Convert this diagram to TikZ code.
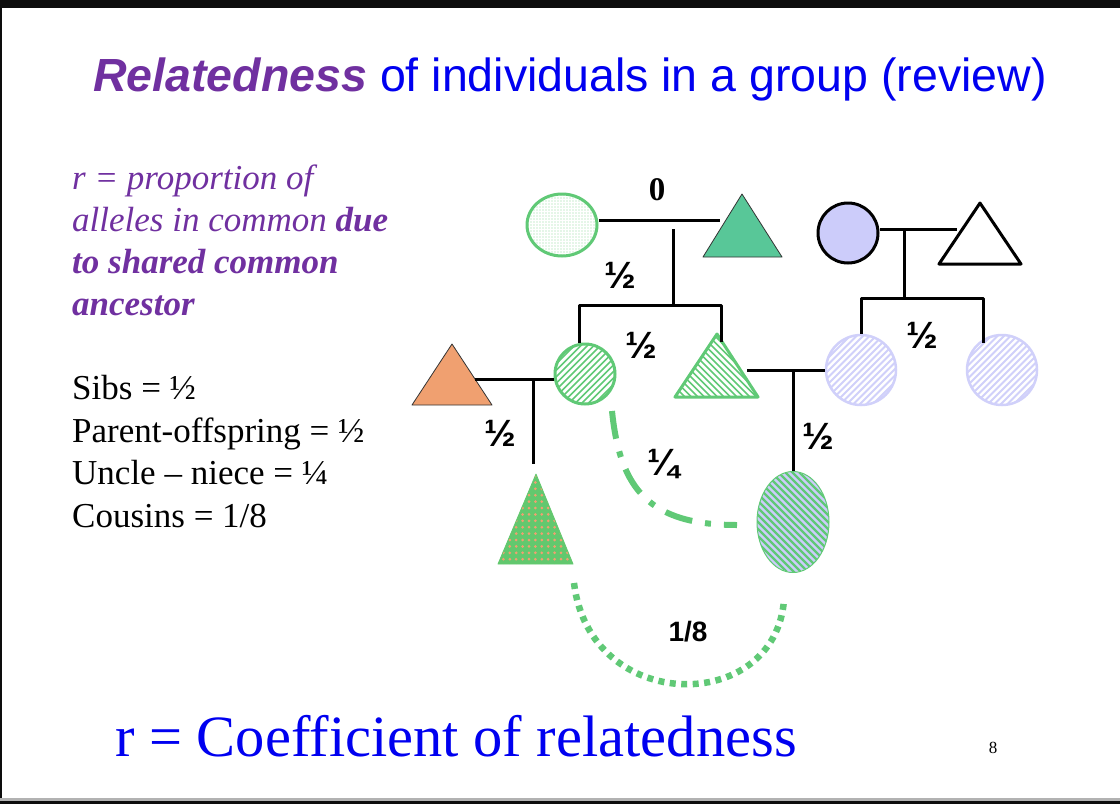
\documentclass[tikz,border=0pt]{standalone}
\usepackage{fontspec}
\setmainfont{Liberation Serif}
\newfontfamily\arialf{Liberation Sans}
\usetikzlibrary{shapes.geometric,patterns.meta}
\definecolor{grn}{RGB}{96,201,118}
\definecolor{tealgrn}{RGB}{88,199,152}
\definecolor{brgrn}{RGB}{98,200,110}
\definecolor{orng}{RGB}{240,160,112}
\definecolor{lav}{RGB}{204,204,250}
\definecolor{palelav}{RGB}{208,208,250}
\definecolor{purp}{RGB}{112,48,160}
\definecolor{ttlblue}{RGB}{0,0,240}
\tikzset{
  kin/.style={line width=3pt},
  frac/.style={font=\arialf\bfseries\fontsize{38}{38}\selectfont,inner sep=0pt},
  lefttxt/.style={anchor=base west,inner sep=0pt,font=\fontsize{35}{35}\selectfont}
}
\begin{document}
\begin{tikzpicture}[x=1pt,y=-1pt,line join=round]
\useasboundingbox (0,0) rectangle (1120,804);
\fill[white] (0,0) rectangle (1120,804);
% frame
\fill[black!95] (0,0) rectangle (1120,8);
\fill[black!95] (0,0) rectangle (2,804);
\fill[black!30] (0,798) rectangle (1120,801);
\fill[black!95] (0,801) rectangle (1120,804);

% title
\node[anchor=base,inner sep=0pt,font=\arialf\fontsize{46.5}{46.5}\selectfont] (title) at (570,91)
  {\textcolor{purp}{\bfseries\itshape Relatedness} \textcolor{ttlblue}{of individuals in a group (review)}};

% left text
\node[lefttxt,text=purp] (def1) at (72,189) {\itshape r = proportion of};
\node[lefttxt,text=purp] (def2) at (72,231) {\itshape alleles in common \textbf{due}};
\node[lefttxt,text=purp] (def3) at (72,273) {\itshape\bfseries to shared common};
\node[lefttxt,text=purp] (def4) at (72,315) {\itshape\bfseries ancestor};
\node[lefttxt] (sibs) at (72,399) {Sibs = ½};
\node[lefttxt] (paro) at (72,442) {Parent-offspring = ½};
\node[lefttxt] (uncn) at (72,484) {Uncle – niece = ¼};
\node[lefttxt] (cous) at (72,527) {Cousins = 1/8};

% grandparents, left
\node[ellipse,draw=grn,line width=3pt,minimum width=70pt,minimum height=62pt,inner sep=0pt,
  pattern={Dots[radius=0.6pt,distance=3pt]},pattern color=grn!70] (gma) at (562,225) {};
\draw[line width=0.8pt,draw=black!80,fill=tealgrn] (742,194) coordinate (gpa) -- (782,257) -- (703,257) -- cycle;
\coordinate (gpaW) at (720,220);
% grandparents, right
\node[circle,draw,line width=3pt,fill=lav,minimum size=60pt,inner sep=0pt] (gma2) at (848,233) {};
\draw[line width=3pt,fill=white] (980,203) coordinate (gpa2) -- (1021,264) -- (939,264) -- cycle;
\coordinate (gpa2W) at (957,229);

% middle generation
\draw[line width=0.8pt,draw=black!80,fill=orng] (452,344) coordinate (dad) -- (492,405) -- (412,405) -- cycle;
\coordinate (dadE) at (475,379);
\begin{scope}
  \clip (585,374) circle (30);
  \foreach \d in {-78,-71.5,...,78}
    \draw[grn,line width=1.7pt] (585+\d-35,409) -- (585+\d+35,339);
\end{scope}
\node[circle,draw=grn,line width=3pt,minimum size=60pt,inner sep=0pt] (mom) at (585,374) {};
\begin{scope}
  \clip (717,334) -- (758,397) -- (675,397) -- cycle;
  \foreach \d in {-78,-71.5,...,78}
    \draw[grn,line width=1.7pt] (717+\d-40,324) -- (717+\d+40,404);
\end{scope}
\draw[line width=3pt,draw=grn] (717,334) coordinate (unc) -- (758,397) -- (675,397) -- cycle;
\coordinate (uncE) at (747,370);
\foreach \cx/\nm in {861/aunt,1002/aunt2}{
  \begin{scope}
    \clip (\cx,370) circle (35);
    \foreach \d in {-84,-77.5,...,84}
      \draw[palelav,line width=1.8pt] (\cx+\d-40,410) -- (\cx+\d+40,330);
  \end{scope}
  \node[circle,draw=palelav,line width=2.5pt,minimum size=70pt,inner sep=0pt] (\nm) at (\cx,370) {};
}

% grandchildren
\begin{scope}
  \clip (536,474) -- (573,564) -- (498,564) -- cycle;
  \fill[brgrn] (495,470) rectangle (577,568);
  \foreach \i in {0,...,12}
    \foreach \j in {0,...,14}
      \fill[orng] (497+\i*6.4,476+\j*6.4) circle (1.5);
\end{scope}
\draw[draw=brgrn,line width=0.8pt] (536,474) coordinate (kid) -- (573,564) -- (498,564) -- cycle;
\begin{scope}
  \clip (793,522) ellipse (36 and 50);
  \fill[lav] (755,470) rectangle (831,574);
  \foreach \d in {-112,-105,...,112}
    \draw[grn,line width=2.4pt] (793+\d-60,462) -- (793+\d+60,582);
\end{scope}
\node[ellipse,draw=grn,line width=1pt,minimum width=72pt,minimum height=101pt,inner sep=0pt] (cousin) at (793,522) {};

% pedigree lines
\coordinate (c1) at (673,229);
\coordinate (s1) at (673,305);
\draw[kin] (gma.east |- gpaW) -- (gpaW);
\draw[kin] (c1) -- (s1);
\draw[kin] ([xshift=-6pt]mom.north) |- (s1) -| (721,342);
\coordinate (c2) at (533,379);
\draw[kin] (dadE) -- (dadE -| mom.west);
\draw[kin] (c2) -- (533,464);
\coordinate (c3) at (793,370);
\draw[kin] (uncE) -- (aunt.west);
\draw[kin] (c3) -- (cousin.north);
\coordinate (c4) at (904,229);
\coordinate (s4) at (904,298);
\draw[kin] (gma2.east |- gpa2W) -- (gpa2W);
\draw[kin] (c4) -- (s4);
\draw[kin] (aunt.north) |- (s4) -| (983,343);

% relatedness links
\draw[grn,line width=6pt,dash pattern=on 28pt off 13pt on 6pt off 13pt] (612,411) .. controls (620,490) and (650,525) .. (737,525);
\draw[grn,line width=6.5pt,dash pattern=on 6pt off 5.5pt] (574,583) .. controls (590,715) and (775,715) .. (784,600);

% values
\node[font=\bfseries\fontsize{33}{33}\selectfont,inner sep=0pt] (r0) at (657,190) {0};
\node[frac] (rA) at (620,275) {½};
\node[frac] (rB) at (641,345) {½};
\node[frac] (rC) at (500,433) {½};
\node[frac] (rD) at (818,436) {½};
\node[frac] (rE) at (922,335) {½};
\node[frac] (rF) at (663,464) {¼};
\node[font=\arialf\bfseries\fontsize{28}{28}\selectfont,inner sep=0pt] (rG) at (688,632) {1/8};

% bottom
\node[anchor=base west,inner sep=0pt,text=ttlblue,font=\fontsize{58.5}{58.5}\selectfont] (coef) at (115,756) {r = Coefficient of relatedness};
\node[inner sep=0pt,font=\fontsize{17}{17}\selectfont] (pgno) at (993,748) {8};
\end{tikzpicture}
\end{document}
